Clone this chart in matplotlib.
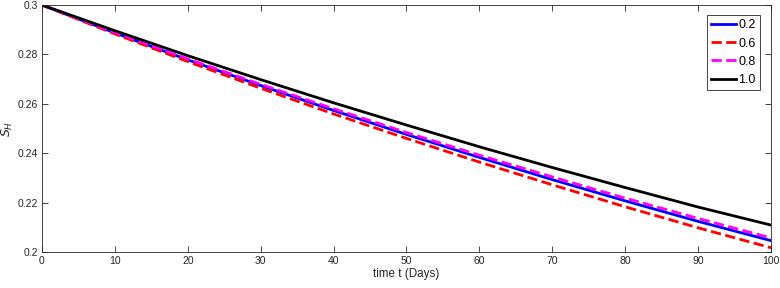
#!/usr/bin/env python3
import matplotlib
matplotlib.use('Agg')
import matplotlib.pyplot as plt

plt.rcParams['font.family'] = ['Liberation Sans', 'DejaVu Sans']

## values, every 10 days
t_days = [0, 10, 20, 30, 40, 50, 60, 70, 80, 90, 100]
s_02 = [0.3000, 0.2887, 0.2778, 0.2674, 0.2573, 0.2476, 0.2383, 0.2293, 0.2207, 0.2124, 0.2046]
s_06 = [0.3000, 0.2883, 0.2771, 0.2663, 0.2559, 0.2460, 0.2364, 0.2272, 0.2183, 0.2098, 0.2017]
s_08 = [0.3000, 0.2889, 0.2782, 0.2679, 0.2580, 0.2484, 0.2392, 0.2304, 0.2218, 0.2136, 0.2057]
s_10 = [0.3000, 0.2896, 0.2795, 0.2698, 0.2604, 0.2514, 0.2426, 0.2342, 0.2261, 0.2182, 0.2109]
labels = ['0.2', '0.6', '0.8', '1.0']

series = [s_02, s_06, s_08, s_10]
styles = [('b', '-'), ('r', '--'), ('#ff00ff', '--'), ('k', '-')]

fig = plt.figure(figsize=(7.8, 2.88), dpi=100)
ax = fig.add_axes([0.0538, 0.125, 0.9347, 0.8576])

for y, (c, ls), lab in zip(series, styles, labels):
    ax.plot(t_days, y, color=c, linestyle=ls, linewidth=2, label=lab)

ax.set_xlim(0, 100)
ax.set_ylim(0.2, 0.3)
ax.set_xticks(range(0, 101, 10))
ax.set_yticks([0.2, 0.22, 0.24, 0.26, 0.28, 0.3])
ax.set_yticklabels(['0.2', '0.22', '0.24', '0.26', '0.28', '0.3'])

axcol = '#262626'
for sp in ax.spines.values():
    sp.set_color(axcol)
    sp.set_linewidth(0.6)
ax.tick_params(direction='in', length=4, width=0.6, colors=axcol,
               labelsize=7.5, top=True, right=True, pad=3)

ax.set_xlabel('time t (Days)', fontsize=8.4, color=axcol, labelpad=1)
ax.set_ylabel('$S_H$', fontsize=9, color=axcol, labelpad=2)

leg = ax.legend(loc='upper right', bbox_to_anchor=(0.985, 0.96), fontsize=9,
                handlelength=2.0, handletextpad=0.15, borderpad=0.35,
                labelspacing=0.5, borderaxespad=0, fancybox=False, framealpha=1)
leg.get_frame().set_edgecolor(axcol)
leg.get_frame().set_linewidth(0.6)

plt.savefig('out.png', dpi=100)
